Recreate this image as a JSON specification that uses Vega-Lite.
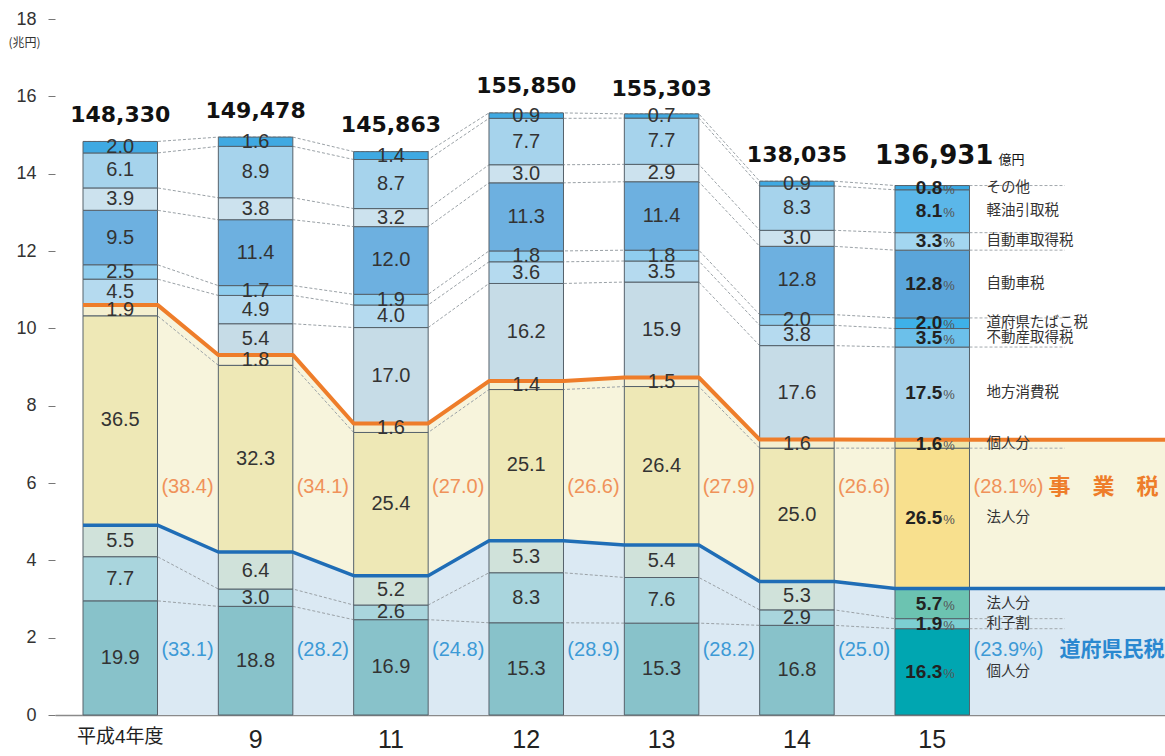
{
  "$schema": "https://vega.github.io/schema/vega-lite/v6.json",
  "width": 1110,
  "height": 696,
  "autosize": {"type": "none"},
  "padding": {"left": 55, "top": 19, "right": 0, "bottom": 41},
  "background": "white",
  "config": {"view": {"stroke": null}},
  "resolve": {"scale": {"xOffset": "independent"}},
  "datasets": {
    "taxes": [
      {"year": 4, "item": "道府県民税個人分", "pct": 19.9, "cho": 2.952},
      {"year": 4, "item": "利子割", "pct": 7.7, "cho": 1.142},
      {"year": 4, "item": "道府県民税法人分", "pct": 5.5, "cho": 0.816},
      {"year": 4, "item": "事業税法人分", "pct": 36.5, "cho": 5.414},
      {"year": 4, "item": "事業税個人分", "pct": 1.9, "cho": 0.282},
      {"year": 4, "item": "不動産取得税", "pct": 4.5, "cho": 0.667},
      {"year": 4, "item": "道府県たばこ税", "pct": 2.5, "cho": 0.371},
      {"year": 4, "item": "自動車税", "pct": 9.5, "cho": 1.409},
      {"year": 4, "item": "自動車取得税", "pct": 3.9, "cho": 0.578},
      {"year": 4, "item": "軽油引取税", "pct": 6.1, "cho": 0.905},
      {"year": 4, "item": "その他", "pct": 2.0, "cho": 0.297},
      {"year": 9, "item": "道府県民税個人分", "pct": 18.8, "cho": 2.810},
      {"year": 9, "item": "利子割", "pct": 3.0, "cho": 0.448},
      {"year": 9, "item": "道府県民税法人分", "pct": 6.4, "cho": 0.957},
      {"year": 9, "item": "事業税法人分", "pct": 32.3, "cho": 4.828},
      {"year": 9, "item": "事業税個人分", "pct": 1.8, "cho": 0.269},
      {"year": 9, "item": "地方消費税", "pct": 5.4, "cho": 0.807},
      {"year": 9, "item": "不動産取得税", "pct": 4.9, "cho": 0.732},
      {"year": 9, "item": "道府県たばこ税", "pct": 1.7, "cho": 0.254},
      {"year": 9, "item": "自動車税", "pct": 11.4, "cho": 1.704},
      {"year": 9, "item": "自動車取得税", "pct": 3.8, "cho": 0.568},
      {"year": 9, "item": "軽油引取税", "pct": 8.9, "cho": 1.330},
      {"year": 9, "item": "その他", "pct": 1.6, "cho": 0.239},
      {"year": 11, "item": "道府県民税個人分", "pct": 16.9, "cho": 2.465},
      {"year": 11, "item": "利子割", "pct": 2.6, "cho": 0.379},
      {"year": 11, "item": "道府県民税法人分", "pct": 5.2, "cho": 0.758},
      {"year": 11, "item": "事業税法人分", "pct": 25.4, "cho": 3.705},
      {"year": 11, "item": "事業税個人分", "pct": 1.6, "cho": 0.233},
      {"year": 11, "item": "地方消費税", "pct": 17.0, "cho": 2.480},
      {"year": 11, "item": "不動産取得税", "pct": 4.0, "cho": 0.583},
      {"year": 11, "item": "道府県たばこ税", "pct": 1.9, "cho": 0.277},
      {"year": 11, "item": "自動車税", "pct": 12.0, "cho": 1.750},
      {"year": 11, "item": "自動車取得税", "pct": 3.2, "cho": 0.467},
      {"year": 11, "item": "軽油引取税", "pct": 8.7, "cho": 1.269},
      {"year": 11, "item": "その他", "pct": 1.4, "cho": 0.204},
      {"year": 12, "item": "道府県民税個人分", "pct": 15.3, "cho": 2.385},
      {"year": 12, "item": "利子割", "pct": 8.3, "cho": 1.294},
      {"year": 12, "item": "道府県民税法人分", "pct": 5.3, "cho": 0.826},
      {"year": 12, "item": "事業税法人分", "pct": 25.1, "cho": 3.912},
      {"year": 12, "item": "事業税個人分", "pct": 1.4, "cho": 0.218},
      {"year": 12, "item": "地方消費税", "pct": 16.2, "cho": 2.525},
      {"year": 12, "item": "不動産取得税", "pct": 3.6, "cho": 0.561},
      {"year": 12, "item": "道府県たばこ税", "pct": 1.8, "cho": 0.281},
      {"year": 12, "item": "自動車税", "pct": 11.3, "cho": 1.761},
      {"year": 12, "item": "自動車取得税", "pct": 3.0, "cho": 0.468},
      {"year": 12, "item": "軽油引取税", "pct": 7.7, "cho": 1.200},
      {"year": 12, "item": "その他", "pct": 0.9, "cho": 0.140},
      {"year": 13, "item": "道府県民税個人分", "pct": 15.3, "cho": 2.376},
      {"year": 13, "item": "利子割", "pct": 7.6, "cho": 1.180},
      {"year": 13, "item": "道府県民税法人分", "pct": 5.4, "cho": 0.839},
      {"year": 13, "item": "事業税法人分", "pct": 26.4, "cho": 4.100},
      {"year": 13, "item": "事業税個人分", "pct": 1.5, "cho": 0.233},
      {"year": 13, "item": "地方消費税", "pct": 15.9, "cho": 2.469},
      {"year": 13, "item": "不動産取得税", "pct": 3.5, "cho": 0.544},
      {"year": 13, "item": "道府県たばこ税", "pct": 1.8, "cho": 0.280},
      {"year": 13, "item": "自動車税", "pct": 11.4, "cho": 1.770},
      {"year": 13, "item": "自動車取得税", "pct": 2.9, "cho": 0.450},
      {"year": 13, "item": "軽油引取税", "pct": 7.7, "cho": 1.196},
      {"year": 13, "item": "その他", "pct": 0.7, "cho": 0.109},
      {"year": 14, "item": "道府県民税個人分", "pct": 16.8, "cho": 2.319},
      {"year": 14, "item": "利子割", "pct": 2.9, "cho": 0.400},
      {"year": 14, "item": "道府県民税法人分", "pct": 5.3, "cho": 0.732},
      {"year": 14, "item": "事業税法人分", "pct": 25.0, "cho": 3.451},
      {"year": 14, "item": "事業税個人分", "pct": 1.6, "cho": 0.221},
      {"year": 14, "item": "地方消費税", "pct": 17.6, "cho": 2.430},
      {"year": 14, "item": "不動産取得税", "pct": 3.8, "cho": 0.525},
      {"year": 14, "item": "道府県たばこ税", "pct": 2.0, "cho": 0.276},
      {"year": 14, "item": "自動車税", "pct": 12.8, "cho": 1.767},
      {"year": 14, "item": "自動車取得税", "pct": 3.0, "cho": 0.414},
      {"year": 14, "item": "軽油引取税", "pct": 8.3, "cho": 1.146},
      {"year": 14, "item": "その他", "pct": 0.9, "cho": 0.124},
      {"year": 15, "item": "道府県民税個人分", "label": "個人分", "pct": 16.3, "cho": 2.232},
      {"year": 15, "item": "利子割", "label": "利子割", "pct": 1.9, "cho": 0.260},
      {"year": 15, "item": "道府県民税法人分", "label": "法人分", "pct": 5.7, "cho": 0.780},
      {"year": 15, "item": "事業税法人分", "label": "法人分", "pct": 26.5, "cho": 3.629},
      {"year": 15, "item": "事業税個人分", "label": "個人分", "pct": 1.6, "cho": 0.219},
      {"year": 15, "item": "地方消費税", "label": "地方消費税", "pct": 17.5, "cho": 2.396},
      {"year": 15, "item": "不動産取得税", "label": "不動産取得税", "pct": 3.5, "cho": 0.479},
      {"year": 15, "item": "道府県たばこ税", "label": "道府県たばこ税", "pct": 2.0, "cho": 0.274},
      {"year": 15, "item": "自動車税", "label": "自動車税", "pct": 12.8, "cho": 1.753},
      {"year": 15, "item": "自動車取得税", "label": "自動車取得税", "pct": 3.3, "cho": 0.452},
      {"year": 15, "item": "軽油引取税", "label": "軽油引取税", "pct": 8.1, "cho": 1.109},
      {"year": 15, "item": "その他", "label": "その他", "pct": 0.8, "cho": 0.110}
    ],
    "totals": [
      {"year": 4, "oku": 148330, "cho": 14.833},
      {"year": 9, "oku": 149478, "cho": 14.948},
      {"year": 11, "oku": 145863, "cho": 14.586},
      {"year": 12, "oku": 155850, "cho": 15.585},
      {"year": 13, "oku": 155303, "cho": 15.530},
      {"year": 14, "oku": 138035, "cho": 13.804},
      {"year": 15, "oku": 136931, "cho": 13.693}
    ],
    "shares": [
      {"year": 4, "group": "道府県民税", "share": "(33.1)"},
      {"year": 9, "group": "道府県民税", "share": "(28.2)"},
      {"year": 11, "group": "道府県民税", "share": "(24.8)"},
      {"year": 12, "group": "道府県民税", "share": "(28.9)"},
      {"year": 13, "group": "道府県民税", "share": "(28.2)"},
      {"year": 14, "group": "道府県民税", "share": "(25.0)"},
      {"year": 15, "group": "道府県民税", "share": "(23.9%)"},
      {"year": 4, "group": "事業税", "share": "(38.4)"},
      {"year": 9, "group": "事業税", "share": "(34.1)"},
      {"year": 11, "group": "事業税", "share": "(27.0)"},
      {"year": 12, "group": "事業税", "share": "(26.6)"},
      {"year": 13, "group": "事業税", "share": "(27.9)"},
      {"year": 14, "group": "事業税", "share": "(26.6)"},
      {"year": 15, "group": "事業税", "share": "(28.1%)"}
    ]
  },
  "data": {"name": "taxes"},
  "encoding": {
    "x": {
      "field": "year",
      "type": "ordinal",
      "scale": {"paddingInner": 0.4495, "paddingOuter": 0.8258, "align": 0.1253},
      "axis": {
        "title": null,
        "domain": true,
        "domainColor": "#8a8a8a",
        "domainWidth": 1.5,
        "ticks": false,
        "labelAngle": 0,
        "labelFont": "Liberation Sans, Noto Sans CJK JP",
        "labelFontSize": {"condition": {"test": "datum.value == 4", "value": 19}, "value": 25},
        "labelColor": "#222",
        "labelPadding": 12,
        "labelExpr": "datum.value == 4 ? '平成4年度' : datum.label"
      }
    }
  },
  "layer": [
    {
      "transform": [
        {"stack": "cho", "groupby": ["year"], "as": ["y0", "y1"]},
        {"filter": {"field": "item", "equal": "事業税個人分"}},
        {"fold": ["start", "end"], "as": ["side", "unused"]}
      ],
      "mark": {"type": "area", "color": "#f7f4dc", "opacity": 1},
      "encoding": {
        "xOffset": {"field": "side", "type": "nominal", "scale": {"domain": ["start", "end"], "paddingInner": 1, "paddingOuter": 0}},
        "y": {
          "field": "y1",
          "type": "quantitative",
          "stack": null,
          "scale": {"domain": [0, 18], "nice": false},
          "axis": {
            "title": "(兆円)",
            "titleAngle": 0,
            "titleX": -47,
            "titleY": 23,
            "titleAlign": "left",
            "titleBaseline": "middle",
            "titleFont": "Noto Sans CJK JP",
            "titleFontSize": 12,
            "titleFontWeight": "normal",
            "titleColor": "#333",
            "values": [0, 2, 4, 6, 8, 10, 12, 14, 16, 18],
            "domain": false,
            "grid": false,
            "tickSize": 7,
            "tickColor": "#777",
            "labelFont": "Liberation Sans",
            "labelFontSize": 18,
            "labelColor": "#333",
            "labelPadding": 12
          }
        }
      }
    },
    {
      "transform": [
        {"stack": "cho", "groupby": ["year"], "as": ["y0", "y1"]},
        {"filter": {"field": "item", "equal": "事業税個人分"}},
        {"filter": {"field": "year", "equal": 15}}
      ],
      "mark": {"type": "rect", "color": "#f7f4dc"},
      "encoding": {
        "x": {"field": "year", "type": "ordinal", "bandPosition": 1},
        "x2": {"value": "width"},
        "y": {"field": "y1", "type": "quantitative", "stack": null},
        "y2": {"datum": 0}
      }
    },
    {
      "transform": [
        {"stack": "cho", "groupby": ["year"], "as": ["y0", "y1"]},
        {"filter": {"field": "item", "equal": "道府県民税法人分"}},
        {"fold": ["start", "end"], "as": ["side", "unused"]}
      ],
      "mark": {"type": "area", "color": "#dbe9f3", "opacity": 1},
      "encoding": {
        "xOffset": {"field": "side", "type": "nominal", "scale": {"domain": ["start", "end"], "paddingInner": 1, "paddingOuter": 0}},
        "y": {"field": "y1", "type": "quantitative", "stack": null}
      }
    },
    {
      "transform": [
        {"stack": "cho", "groupby": ["year"], "as": ["y0", "y1"]},
        {"filter": {"field": "item", "equal": "道府県民税法人分"}},
        {"filter": {"field": "year", "equal": 15}}
      ],
      "mark": {"type": "rect", "color": "#dbe9f3"},
      "encoding": {
        "x": {"field": "year", "type": "ordinal", "bandPosition": 1},
        "x2": {"value": "width"},
        "y": {"field": "y1", "type": "quantitative", "stack": null},
        "y2": {"datum": 0}
      }
    },
    {
      "transform": [
        {"stack": "cho", "groupby": ["year"], "as": ["y0", "y1"]},
        {"fold": ["start", "end"], "as": ["side", "unused"]}
      ],
      "mark": {"type": "line", "color": "#9aa1a6", "strokeWidth": 1, "strokeDash": [3, 2]},
      "encoding": {
        "xOffset": {"field": "side", "type": "nominal", "scale": {"domain": ["start", "end"], "paddingInner": 1, "paddingOuter": 0}},
        "y": {"field": "y1", "type": "quantitative", "stack": null},
        "detail": {"field": "item", "type": "nominal"}
      }
    },
    {
      "transform": [
        {"stack": "cho", "groupby": ["year"], "as": ["y0", "y1"]},
        {"filter": "datum.year == 15"},
        {"filter": {"field": "item", "oneOf": ["その他", "自動車取得税", "自動車税", "道府県たばこ税", "地方消費税", "事業税法人分", "利子割", "道府県民税個人分"]}}
      ],
      "mark": {"type": "rule", "color": "#a3a9ad", "strokeWidth": 1, "strokeDash": [3, 2]},
      "encoding": {
        "x": {"field": "year", "type": "ordinal", "bandPosition": 1},
        "x2": {"field": "year", "bandPosition": 2.28},
        "y": {"field": "y1", "type": "quantitative", "stack": null}
      }
    },
    {
      "transform": [
        {"stack": "cho", "groupby": ["year"], "as": ["y0", "y1"]},
        {"filter": "datum.year != 15"}
      ],
      "mark": {"type": "bar", "stroke": "#56626b", "strokeWidth": 1, "width": {"band": 1}},
      "encoding": {
        "y": {"field": "y0", "type": "quantitative"},
        "y2": {"field": "y1"},
        "color": {
          "field": "item",
          "type": "nominal",
          "legend": null,
          "scale": {
            "domain": ["道府県民税個人分", "利子割", "道府県民税法人分", "事業税法人分", "事業税個人分", "地方消費税", "不動産取得税", "道府県たばこ税", "自動車税", "自動車取得税", "軽油引取税", "その他"],
            "range": ["#88c2ca", "#a9d5dd", "#d0e2da", "#eee8b6", "#f4efcf", "#c6dce7", "#b5daef", "#8fcdee", "#6db0e0", "#cce2ee", "#a6d3ec", "#3fa9e2"]
          }
        }
      }
    },
    {
      "transform": [
        {"stack": "cho", "groupby": ["year"], "as": ["y0", "y1"]},
        {"filter": "datum.year == 15"}
      ],
      "mark": {"type": "bar", "stroke": "#56626b", "strokeWidth": 1, "width": {"band": 1}},
      "encoding": {
        "y": {"field": "y0", "type": "quantitative"},
        "y2": {"field": "y1"},
        "fill": {
          "field": "item",
          "type": "nominal",
          "legend": null,
          "scale": {
            "domain": ["道府県民税個人分", "利子割", "道府県民税法人分", "事業税法人分", "事業税個人分", "地方消費税", "不動産取得税", "道府県たばこ税", "自動車税", "自動車取得税", "軽油引取税", "その他"],
            "range": ["#00a6b1", "#7ccfd2", "#6cc3b1", "#f8e08e", "#efe4a8", "#a6d1e9", "#6cc0ea", "#3eb1e8", "#5aa5da", "#a3d6f0", "#5bb7e9", "#39a8e2"]
          }
        }
      }
    },
    {
      "transform": [
        {"stack": "cho", "groupby": ["year"], "as": ["y0", "y1"]},
        {"filter": {"field": "item", "equal": "事業税個人分"}},
        {"fold": ["start", "end"], "as": ["side", "unused"]}
      ],
      "mark": {"type": "line", "color": "#ee7d2a", "strokeWidth": 4, "strokeJoin": "round"},
      "encoding": {
        "xOffset": {"field": "side", "type": "nominal", "scale": {"domain": ["start", "end"], "paddingInner": 1, "paddingOuter": 0}},
        "y": {"field": "y1", "type": "quantitative", "stack": null}
      }
    },
    {
      "transform": [
        {"stack": "cho", "groupby": ["year"], "as": ["y0", "y1"]},
        {"filter": {"field": "item", "equal": "事業税個人分"}},
        {"filter": {"field": "year", "equal": 15}}
      ],
      "mark": {"type": "rule", "color": "#ee7d2a", "strokeWidth": 4},
      "encoding": {
        "x": {"field": "year", "type": "ordinal", "bandPosition": 1},
        "x2": {"value": "width"},
        "y": {"field": "y1", "type": "quantitative", "stack": null}
      }
    },
    {
      "transform": [
        {"stack": "cho", "groupby": ["year"], "as": ["y0", "y1"]},
        {"filter": {"field": "item", "equal": "道府県民税法人分"}},
        {"fold": ["start", "end"], "as": ["side", "unused"]}
      ],
      "mark": {"type": "line", "color": "#1f6db6", "strokeWidth": 3.5, "strokeJoin": "round"},
      "encoding": {
        "xOffset": {"field": "side", "type": "nominal", "scale": {"domain": ["start", "end"], "paddingInner": 1, "paddingOuter": 0}},
        "y": {"field": "y1", "type": "quantitative", "stack": null}
      }
    },
    {
      "transform": [
        {"stack": "cho", "groupby": ["year"], "as": ["y0", "y1"]},
        {"filter": {"field": "item", "equal": "道府県民税法人分"}},
        {"filter": {"field": "year", "equal": 15}}
      ],
      "mark": {"type": "rule", "color": "#1f6db6", "strokeWidth": 3.5},
      "encoding": {
        "x": {"field": "year", "type": "ordinal", "bandPosition": 1},
        "x2": {"value": "width"},
        "y": {"field": "y1", "type": "quantitative", "stack": null}
      }
    },
    {
      "transform": [
        {"stack": "cho", "groupby": ["year"], "as": ["y0", "y1"]},
        {"calculate": "(datum.y0 + datum.y1) / 2", "as": "ymid"},
        {"filter": "datum.year != 15"}
      ],
      "mark": {"type": "text", "font": "Liberation Sans", "fontSize": 20, "color": "#333"},
      "encoding": {
        "y": {"field": "ymid", "type": "quantitative"},
        "text": {"field": "pct", "type": "quantitative", "format": ".1f"}
      }
    },
    {
      "transform": [
        {"stack": "cho", "groupby": ["year"], "as": ["y0", "y1"]},
        {"calculate": "(datum.y0 + datum.y1) / 2", "as": "ymid"},
        {"filter": "datum.year == 15"}
      ],
      "mark": {"type": "text", "font": "Liberation Sans", "fontSize": 19, "fontWeight": "bold", "color": "#222", "align": "right", "dx": 10},
      "encoding": {
        "y": {"field": "ymid", "type": "quantitative"},
        "text": {"field": "pct", "type": "quantitative", "format": ".1f"}
      }
    },
    {
      "transform": [
        {"stack": "cho", "groupby": ["year"], "as": ["y0", "y1"]},
        {"calculate": "(datum.y0 + datum.y1) / 2", "as": "ymid"},
        {"filter": "datum.year == 15"}
      ],
      "mark": {"type": "text", "font": "Liberation Sans", "fontSize": 13, "color": "#555", "align": "left", "dx": 11, "dy": 2},
      "encoding": {
        "y": {"field": "ymid", "type": "quantitative"},
        "text": {"value": "%"}
      }
    },
    {
      "transform": [
        {"stack": "cho", "groupby": ["year"], "as": ["y0", "y1"]},
        {"calculate": "(datum.y0 + datum.y1) / 2", "as": "ymid"},
        {"filter": "datum.year == 15"}
      ],
      "mark": {"type": "text", "font": "Noto Sans CJK JP", "fontSize": 14.5, "color": "#333", "align": "left", "dx": 17},
      "encoding": {
        "x": {"field": "year", "type": "ordinal", "bandPosition": 1},
        "y": {"field": "ymid", "type": "quantitative"},
        "text": {"field": "label", "type": "nominal"}
      }
    },
    {
      "data": {"name": "shares"},
      "transform": [{"filter": "datum.year != 15 && datum.group == '道府県民税'"}],
      "mark": {"type": "text", "font": "Liberation Sans", "fontSize": 20, "color": "#3d9ad6", "align": "center", "dx": 30},
      "encoding": {
        "x": {"field": "year", "type": "ordinal", "bandPosition": 1},
        "y": {"datum": 1.68},
        "text": {"field": "share", "type": "nominal"}
      }
    },
    {
      "data": {"name": "shares"},
      "transform": [{"filter": "datum.year != 15 && datum.group == '事業税'"}],
      "mark": {"type": "text", "font": "Liberation Sans", "fontSize": 20, "color": "#f0925a", "align": "center", "dx": 30},
      "encoding": {
        "x": {"field": "year", "type": "ordinal", "bandPosition": 1},
        "y": {"datum": 5.9},
        "text": {"field": "share", "type": "nominal"}
      }
    },
    {
      "data": {"name": "shares"},
      "transform": [{"filter": "datum.year == 15 && datum.group == '道府県民税'"}],
      "mark": {"type": "text", "font": "Liberation Sans", "fontSize": 20, "color": "#3d9ad6", "align": "left", "dx": 4},
      "encoding": {
        "x": {"field": "year", "type": "ordinal", "bandPosition": 1},
        "y": {"datum": 1.68},
        "text": {"field": "share", "type": "nominal"}
      }
    },
    {
      "data": {"name": "shares"},
      "transform": [{"filter": "datum.year == 15 && datum.group == '事業税'"}],
      "mark": {"type": "text", "font": "Liberation Sans", "fontSize": 20, "color": "#f0925a", "align": "left", "dx": 4},
      "encoding": {
        "x": {"field": "year", "type": "ordinal", "bandPosition": 1},
        "y": {"datum": 5.9},
        "text": {"field": "share", "type": "nominal"}
      }
    },
    {
      "data": {"name": "shares"},
      "transform": [{"filter": "datum.year == 15 && datum.group == '事業税'"}],
      "mark": {"type": "text", "font": "Noto Sans CJK JP", "fontSize": 22, "fontWeight": "bold", "color": "#ee7d2a", "align": "left", "dx": 79},
      "encoding": {
        "x": {"field": "year", "type": "ordinal", "bandPosition": 1},
        "y": {"datum": 5.9},
        "text": {"value": "事　業　税"}
      }
    },
    {
      "data": {"name": "shares"},
      "transform": [{"filter": "datum.year == 15 && datum.group == '道府県民税'"}],
      "mark": {"type": "text", "font": "Noto Sans CJK JP", "fontSize": 21, "fontWeight": "bold", "color": "#2a88d0", "align": "left", "dx": 90},
      "encoding": {
        "x": {"field": "year", "type": "ordinal", "bandPosition": 1},
        "y": {"datum": 1.68},
        "text": {"value": "道府県民税"}
      }
    },
    {
      "data": {"name": "totals"},
      "transform": [{"filter": "datum.year != 15"}],
      "mark": {"type": "text", "font": "DejaVu Sans", "fontSize": 22, "fontWeight": "bold", "color": "#111", "baseline": "alphabetic", "dy": -19},
      "encoding": {
        "y": {"field": "cho", "type": "quantitative"},
        "text": {"field": "oku", "type": "quantitative", "format": ","}
      }
    },
    {
      "data": {"name": "totals"},
      "transform": [{"filter": "datum.year == 15"}],
      "mark": {"type": "text", "font": "DejaVu Sans", "fontSize": 26, "fontWeight": "bold", "color": "#111", "baseline": "alphabetic", "dx": 2, "dy": -22},
      "encoding": {
        "y": {"field": "cho", "type": "quantitative"},
        "text": {"field": "oku", "type": "quantitative", "format": ","}
      }
    },
    {
      "data": {"name": "totals"},
      "transform": [{"filter": "datum.year == 15"}],
      "mark": {"type": "text", "font": "Noto Sans CJK JP", "fontSize": 13, "color": "#111", "align": "left", "baseline": "alphabetic", "dx": 29, "dy": -22},
      "encoding": {
        "x": {"field": "year", "type": "ordinal", "bandPosition": 1},
        "y": {"field": "cho", "type": "quantitative"},
        "text": {"value": "億円"}
      }
    }
  ]
}
